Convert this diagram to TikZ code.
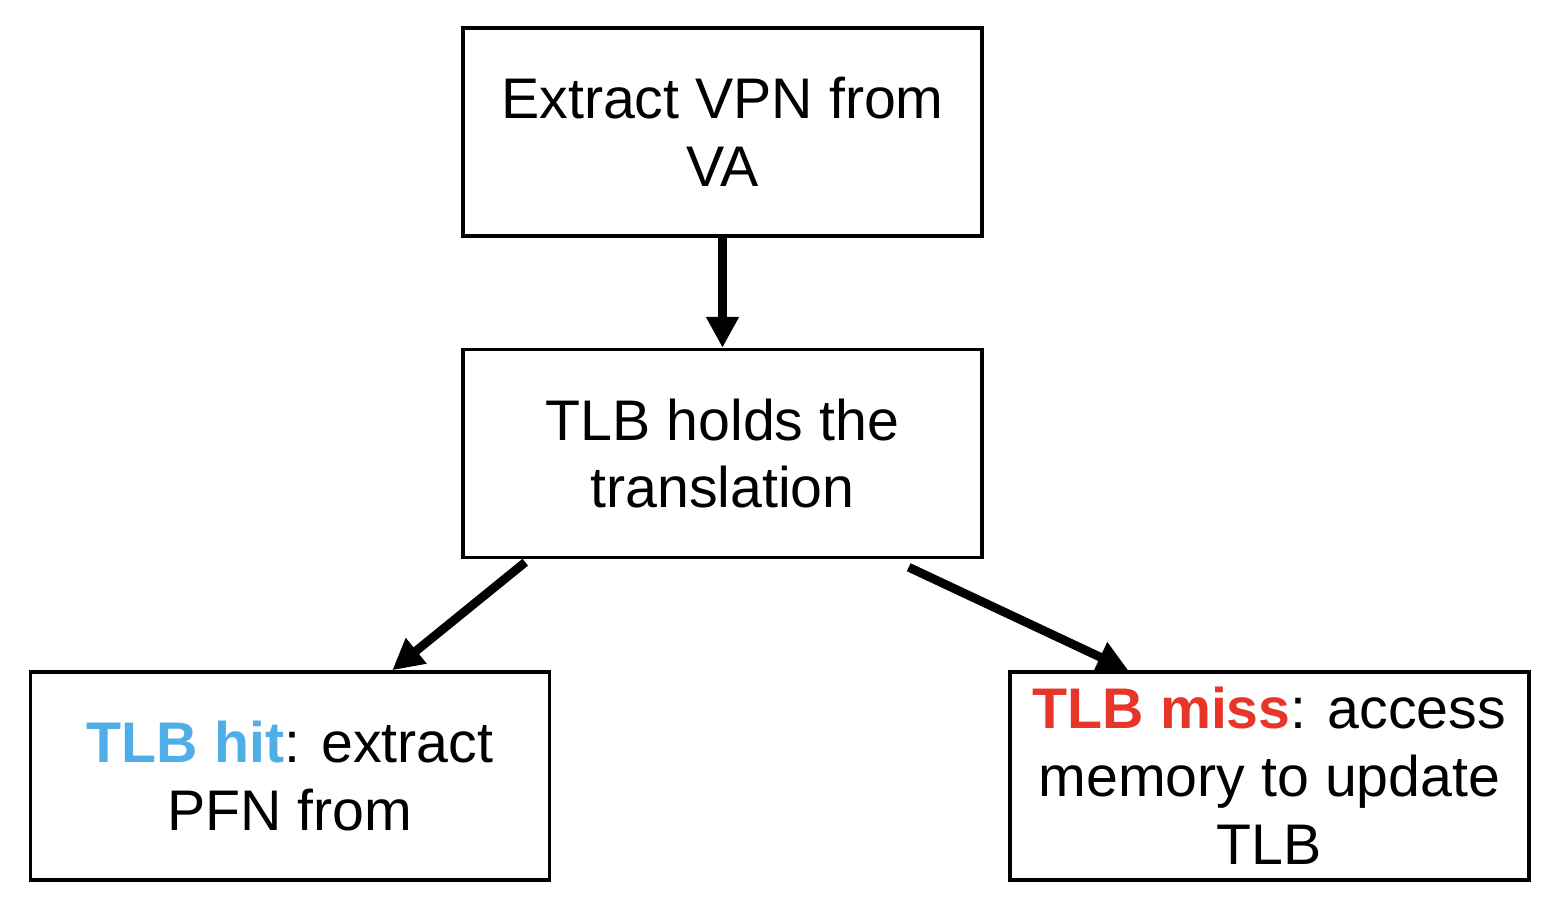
\documentclass[tikz,border=0pt]{standalone}
\usepackage{fontspec}
\setmainfont{Liberation Sans}
\usetikzlibrary{arrows.meta,positioning}
\definecolor{HitBlue}{HTML}{4FAEE8}
\definecolor{MissRed}{HTML}{E8352A}
\tikzset{
  arr/.style={-{Triangle[length=0.62cm,width=0.62cm]},line width=5pt,draw=black},
  stepbox/.style={draw=black,line width=2pt,fill=white,minimum width=10.38cm,minimum height=4.16cm,
    align=center,inner sep=0pt,font=\fontsize{32.6}{38.6}\selectfont}
}

\begin{document}
\begin{tikzpicture}[x=0.02cm,y=-0.02cm]
  \useasboundingbox (0,0) rectangle (1560,908);
  \node[stepbox] (va) at (722.5,132) {Extract VPN from\\VA};
  \node[stepbox] (tlb) at (722.5,453.5) {TLB holds the\\translation};
  \node[stepbox] (hit) at (290,776) {\textbf{\color{HitBlue}TLB hit}: extract\\PFN from};
  \node[stepbox] (miss) at (1269.5,776) {\textbf{\color{MissRed}TLB miss}: access\\memory to update\\TLB};
  \draw[arr] (va.south) -- (tlb.north);
  \draw[arr] ([xshift=1.28cm,yshift=-0.06cm]tlb.south west) -- ([xshift=-3.18cm]hit.north east);
  \draw[arr] ([xshift=-1.5cm,yshift=-0.16cm]tlb.south east) -- ([xshift=2.4cm]miss.north west);
\end{tikzpicture}
\end{document}
